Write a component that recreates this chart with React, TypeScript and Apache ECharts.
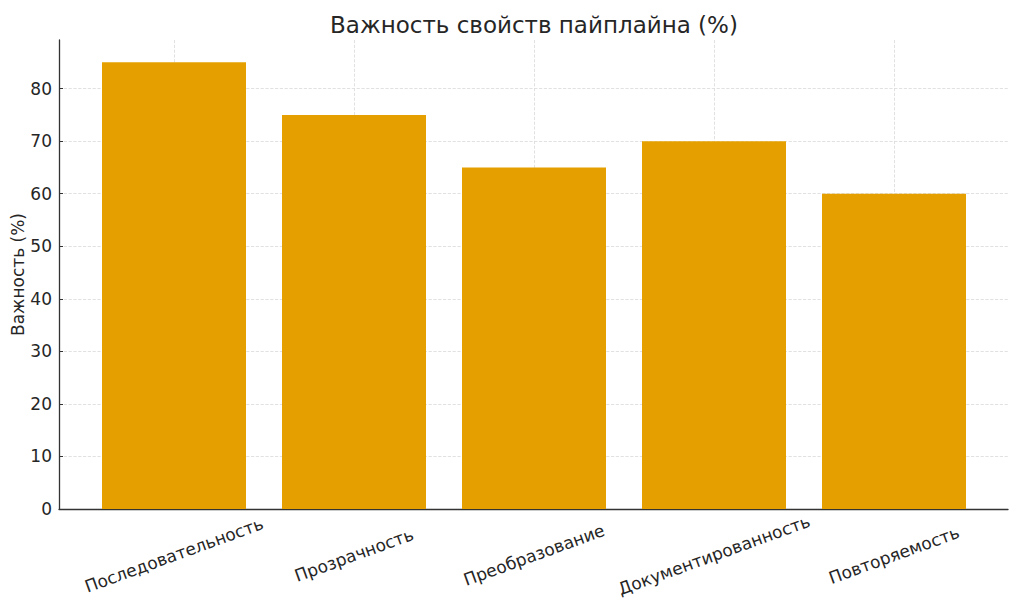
import { useEffect, useRef } from "react";
import * as echarts from "echarts";

const categories = [
  "Последовательность",
  "Прозрачность",
  "Преобразование",
  "Документированность",
  "Повторяемость",
];
const importance = [85, 75, 65, 70, 60];
const yMax = 89.25;

const FONT = "DejaVu Sans";
const TEXT = "#262626";
const GRID_LINE = { show: true, lineStyle: { color: "#d9d9d9", type: "dashed" as const, width: 0.8 } };

const App = () => {
  const chartRef = useRef<HTMLDivElement>(null);

  useEffect(() => {
    const chart = echarts.init(chartRef.current, null, { renderer: "svg" });
    chart.setOption({
      animation: false,
      textStyle: { fontFamily: FONT },
      title: {
        text: "Важность свойств пайплайна (%)",
        left: 529,
        top: 8,
        textAlign: "center",
        textStyle: { fontFamily: FONT, fontSize: 23, fontWeight: "normal", color: TEXT },
      },
      grid: [
        { left: 59, right: 16, top: 40, bottom: 107, outerBoundsMode: "none", containLabel: false },
        { left: 84, right: 40, top: 40, bottom: 107, outerBoundsMode: "none", containLabel: false },
      ],
      xAxis: [
        {
          type: "value",
          gridIndex: 0,
          min: 0,
          max: 1,
          axisLine: { show: true, lineStyle: { color: "#333", width: 1.3 } },
          axisTick: { show: false },
          axisLabel: { show: false },
          splitLine: { show: false },
        },
        {
          type: "category",
          gridIndex: 1,
          data: categories,
          axisLine: { show: false },
          axisTick: { show: true, inside: true, length: 4, alignWithLabel: true, lineStyle: { color: "#333" } },
          splitLine: { ...GRID_LINE, alignWithLabel: true },
          axisLabel: {
            rotate: 20,
            align: "center",
            verticalAlign: "middle",
            margin: 46,
            fontFamily: FONT,
            fontSize: 17,
            color: TEXT,
          },
        },
      ],
      yAxis: [
        {
          type: "value",
          gridIndex: 0,
          min: 0,
          max: yMax,
          interval: 10,
          name: "Важность (%)",
          nameLocation: "middle",
          nameGap: 33,
          nameMoveOverlap: false,
          nameTextStyle: { fontFamily: FONT, fontSize: 17, color: TEXT },
          axisLine: { show: true, lineStyle: { color: "#333", width: 1.3 } },
          axisTick: { show: true, inside: true, length: 4, lineStyle: { color: "#333" } },
          axisLabel: { showMaxLabel: false, fontFamily: FONT, fontSize: 17, color: TEXT, margin: 7 },
          splitLine: { ...GRID_LINE, showMaxLine: false },
        },
        {
          type: "value",
          gridIndex: 1,
          min: 0,
          max: yMax,
          show: false,
          splitLine: { show: false },
        },
      ],
      series: [
        {
          type: "bar",
          xAxisIndex: 1,
          yAxisIndex: 1,
          data: importance,
          barWidth: "80%",
          itemStyle: { color: "#E5A000" },
        },
      ],
    });
    return () => {
      chart.dispose();
    };
  }, []);

  return (
    <div
      ref={chartRef}
      style={{ position: "fixed", left: 0, top: 0, width: "1024px", height: "616px", background: "#fff" }}
    ></div>
  );
};

export default App;
